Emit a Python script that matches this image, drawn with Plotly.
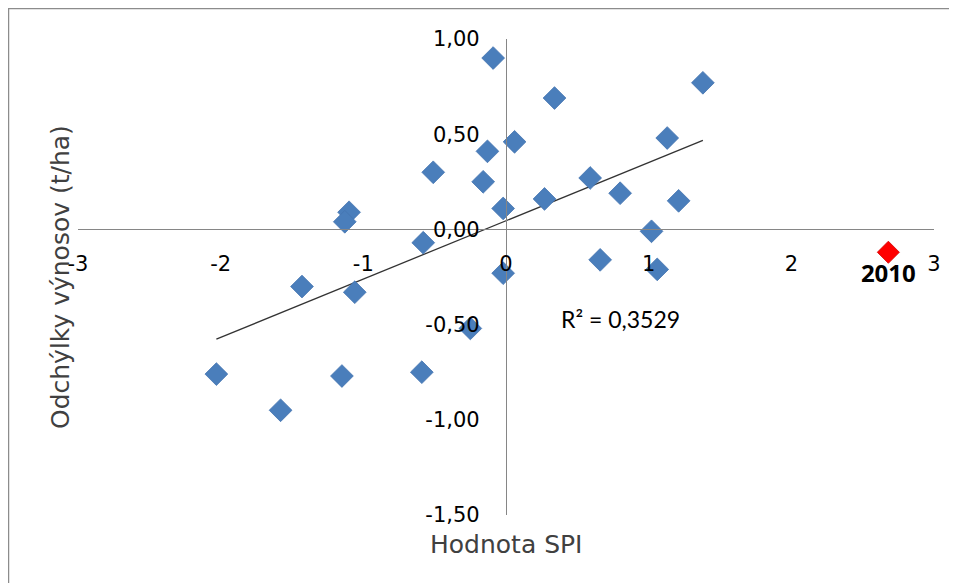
import numpy as np
import plotly.graph_objects as go

# Blue series: SPI value vs yield deviation (t/ha)
spi = [-0.09, 1.38, 0.34, 1.13, 0.06, -0.13, -0.51, -0.16, 0.59, 0.80,
       0.27, 1.21, -0.02, -1.10, -1.13, 1.02, -0.58, 0.66, 1.06, -0.02,
       -1.43, -1.06, -0.25, -2.03, -1.15, -0.59, -1.58]
dev = [0.90, 0.77, 0.69, 0.48, 0.46, 0.41, 0.30, 0.25, 0.27, 0.19,
       0.16, 0.15, 0.11, 0.09, 0.04, -0.01, -0.07, -0.16, -0.21, -0.23,
       -0.30, -0.33, -0.52, -0.76, -0.77, -0.75, -0.95]

# Highlighted year
hl_x = [2.68]
hl_y = [-0.12]
hl_label = ["2010"]

x_ticks = [-3, -2, -1, 0, 1, 2, 3]
x_tick_labels = ["-3", "-2", "-1", "0", "1", "2", "3"]
y_ticks = [1.0, 0.5, 0.0, -0.5, -1.0, -1.5]
y_tick_labels = ["1,00", "0,50", "0,00", "-0,50", "-1,00", "-1,50"]
r2_text = "R² = 0,3529"
x_title = "Hodnota SPI"
y_title = "Odchýlky výnosov (t/ha)"

# linear trendline computed from the blue series
k, q = np.polyfit(spi, dev, 1)
tx = [min(spi), max(spi)]
ty = [k * v + q for v in tx]

FONT = "DejaVu Sans"

fig = go.Figure()
fig.add_trace(go.Scatter(
    x=tx, y=ty, mode="lines",
    line=dict(color="#333333", width=1.3), hoverinfo="skip", showlegend=False))
fig.add_trace(go.Scatter(
    x=spi, y=dev, mode="markers",
    marker=dict(symbol="diamond", size=17.5, color="#4A7EBB",
                line=dict(color="#4473B0", width=0.8)),
    showlegend=False))
fig.add_trace(go.Scatter(
    x=hl_x, y=hl_y, mode="markers+text", text=hl_label,
    textposition="bottom center",
    textfont=dict(family="Open Sans", size=24, color="#000000", weight="bold"),
    marker=dict(symbol="diamond", size=17, color="#FF0000",
                line=dict(color="#D00000", width=0.8)),
    showlegend=False))

axis_common = dict(showgrid=False, zeroline=False, showline=True,
                   linecolor="#868686", linewidth=1.2, ticks="",
                   tickfont=dict(family=FONT, size=21, color="#000000"))

# the page body adds an 8px offset, so the figure is 8px smaller
fig.update_layout(
    width=949, height=575,
    margin=dict(l=70, r=23, t=31, b=68),
    paper_bgcolor="white", plot_bgcolor="white",
    xaxis=dict(range=[-3, 3], tickvals=x_ticks, ticktext=x_tick_labels,
               anchor="free", position=0.6, ticklabelstandoff=15, **axis_common),
    yaxis=dict(range=[-1.5, 1.0], tickvals=y_ticks, ticktext=y_tick_labels,
               anchor="free", position=0.5, ticklabelstandoff=22, **axis_common),
    annotations=[
        dict(x=0.8, y=-0.47, xref="x", yref="y", text=r2_text, showarrow=False,
             xanchor="center", yanchor="middle",
             font=dict(family="Lato", size=23, color="#000000")),
        dict(x=0.5, y=-0.063, xref="paper", yref="paper", text=x_title,
             showarrow=False, xanchor="center", yanchor="middle",
             font=dict(family=FONT, size=25, color="#404040")),
        dict(x=-0.021, y=0.5, xref="paper", yref="paper", text=y_title,
             textangle=-90, showarrow=False, xanchor="center", yanchor="middle",
             font=dict(family=FONT, size=25, color="#404040")),
    ],
    shapes=[dict(type="rect", xref="paper", yref="paper",
                 x0=-0.0812, x1=1.2, y0=-0.3, y1=1.064,
                 line=dict(color="#8C8C8C", width=1.5), layer="below")],
)

fig.write_html("out.html")
